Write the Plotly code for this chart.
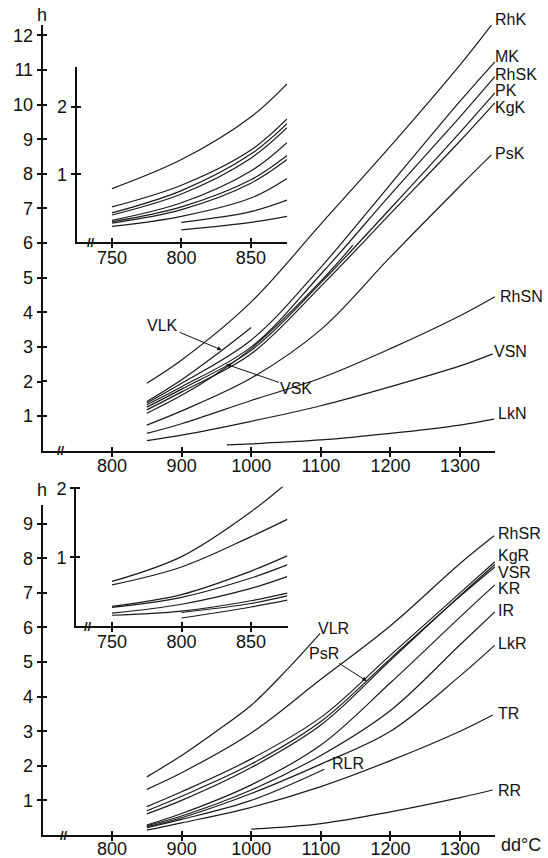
import plotly.graph_objects as go

# ---------------- data ----------------
# Upper chart, main panel
TOP_NAMES = ["RhK", "MK", "RhSK", "PK", "KgK", "VLK", "VSK", "PsK", "RhSN", "VSN", "LkN"]
TOP_DD = [
    [850, 900, 1000, 1100, 1200, 1300, 1345],
    [850, 900, 1000, 1100, 1200, 1300, 1350],
    [850, 900, 1000, 1100, 1200, 1300, 1350],
    [850, 900, 1000, 1100, 1200, 1300, 1350],
    [850, 900, 1000, 1100, 1200, 1300, 1350],
    [850, 900, 950, 1000],
    [850, 900, 950, 1000, 1100, 1146],
    [850, 900, 1000, 1100, 1200, 1300, 1345],
    [850, 900, 1000, 1100, 1200, 1300, 1350],
    [850, 900, 1000, 1100, 1200, 1300, 1347],
    [965, 1000, 1100, 1200, 1300, 1349],
]
TOP_H = [
    [1.95, 2.62, 4.3, 6.55, 8.8, 11.15, 12.3],
    [1.38, 1.95, 3.2, 5.3, 7.7, 10.1, 11.24],
    [1.33, 1.85, 3.0, 5.1, 7.4, 9.65, 10.81],
    [1.26, 1.78, 2.9, 4.85, 7.0, 9.2, 10.34],
    [1.18, 1.7, 2.8, 4.75, 6.85, 8.95, 10.05],
    [1.42, 2.05, 2.78, 3.56],
    [1.08, 1.6, 2.22, 2.95, 4.9, 5.94],
    [0.74, 1.15, 2.1, 3.5, 5.6, 7.65, 8.55],
    [0.50, 0.78, 1.45, 2.1, 2.95, 3.9, 4.45],
    [0.29, 0.45, 0.85, 1.3, 1.85, 2.45, 2.8],
    [0.17, 0.2, 0.31, 0.5, 0.74, 0.91],
]
# Upper chart, inset (750-875 dd)
TOP_IN_DD = [
    [750, 800, 850, 876], [750, 800, 850, 876], [750, 800, 850, 876],
    [750, 800, 850, 876], [750, 800, 850, 876], [750, 800, 850, 876],
    [750, 800, 850, 876], [750, 800, 850, 876],
    [800, 850, 876], [800, 850, 876],
]
TOP_IN_H = [
    [0.79, 1.22, 1.85, 2.34],
    [0.52, 0.84, 1.36, 1.82],
    [0.43, 0.76, 1.30, 1.75],
    [0.40, 0.71, 1.24, 1.69],
    [0.32, 0.58, 1.05, 1.47],
    [0.30, 0.52, 0.92, 1.28],
    [0.28, 0.48, 0.87, 1.22],
    [0.23, 0.38, 0.65, 0.94],
    [0.29, 0.45, 0.62],
    [0.18, 0.29, 0.38],
]
# Upper chart end labels: (name, dd, h)
TOP_LABELS = [("RhK", 1347, 12.45), ("MK", 1347, 11.40), ("RhSK", 1347, 10.86),
              ("PK", 1347, 10.42), ("KgK", 1347, 9.93), ("PsK", 1347, 8.6),
              ("RhSN", 1354, 4.45), ("VSN", 1346, 2.86), ("LkN", 1352, 1.08)]
TOP_POINTERS = [("VLK", 957.6, 2.91, 872.5, 3.63), ("VSK", 963.8, 2.5, 1065, 1.80)]

# Lower chart, main panel
BOT_NAMES = ["VLR", "RhSR", "KgR", "VSR", "PsR", "KR", "IR", "LkR", "RLR", "TR", "RR"]
BOT_DD = [
    [850, 900, 950, 1000, 1050, 1099],
    [850, 900, 1000, 1100, 1200, 1300, 1349],
    [850, 900, 1000, 1100, 1200, 1300, 1350],
    [850, 900, 1000, 1100, 1200, 1300, 1350],
    [850, 900, 1000, 1100, 1200, 1300, 1350],
    [850, 900, 1000, 1100, 1200, 1300, 1350],
    [850, 900, 1000, 1100, 1200, 1300, 1350],
    [850, 900, 1000, 1100, 1200, 1300, 1350],
    [850, 900, 1000, 1105],
    [850, 900, 1000, 1100, 1200, 1300, 1347],
    [1000, 1100, 1200, 1300, 1347],
]
BOT_H = [
    [1.68, 2.3, 3.0, 3.75, 4.75, 5.83],
    [1.32, 1.8, 2.95, 4.5, 6.05, 7.85, 8.65],
    [0.82, 1.25, 2.2, 3.4, 5.2, 7.0, 7.9],
    [0.70, 1.12, 2.05, 3.28, 5.1, 6.9, 7.75],
    [0.61, 1.0, 1.95, 3.18, 5.05, 6.92, 7.82],
    [0.29, 0.62, 1.45, 2.6, 4.4, 6.3, 7.23],
    [0.27, 0.55, 1.3, 2.3, 3.6, 5.5, 6.45],
    [0.24, 0.5, 1.2, 2.05, 3.0, 4.6, 5.49],
    [0.21, 0.45, 1.0, 1.9],
    [0.14, 0.35, 0.8, 1.4, 2.15, 3.0, 3.47],
    [0.17, 0.33, 0.67, 1.08, 1.30],
]
BOT_IN_DD = [
    [750, 800, 850, 876], [750, 800, 850, 876], [750, 800, 850, 876],
    [750, 800, 850, 876], [750, 800, 850, 876], [750, 800, 850, 876],
    [800, 850, 876], [800, 850, 876],
]
BOT_IN_H = [
    [0.65, 1.01, 1.66, 2.08],
    [0.60, 0.86, 1.30, 1.55],
    [0.29, 0.46, 0.80, 1.02],
    [0.275, 0.42, 0.70, 0.89],
    [0.19, 0.32, 0.55, 0.72],
    [0.16, 0.22, 0.37, 0.48],
    [0.20, 0.33, 0.44],
    [0.12, 0.28, 0.38],
]
BOT_LABELS = [("RhSR", 1352, 8.72), ("KgR", 1352, 8.09), ("VSR", 1352, 7.58),
              ("KR", 1352, 7.13), ("IR", 1352, 6.5), ("LkR", 1352, 5.54),
              ("TR", 1352, 3.52), ("RR", 1352, 1.30),
              ("VLR", 1093, 5.97), ("RLR", 1113, 2.07)]
BOT_POINTERS = [("PsR", 1166, 4.45, 1104, 5.25)]

MAIN_XTICKS = [800, 900, 1000, 1100, 1200, 1300]
TOP_YTICKS = list(range(1, 13))
BOT_YTICKS = list(range(1, 10))
INSET_XTICKS = [750, 800, 850]
INSET_YTICKS = [1, 2]

# ---------------- figure ----------------
W, H = 548, 858
FONT = "Liberation Sans, Arial, Helvetica, sans-serif"
LINE = dict(color="#1a1a1a", width=1.2, shape="spline", smoothing=1.0)

fig = go.Figure()


def add_lines(dds, hs, xa, ya):
    for d, h in zip(dds, hs):
        fig.add_trace(go.Scatter(x=d, y=h, mode="lines", line=LINE,
                                 xaxis=xa, yaxis=ya, showlegend=False,
                                 hoverinfo="skip"))


add_lines(TOP_DD, TOP_H, "x", "y")
add_lines(TOP_IN_DD, TOP_IN_H, "x2", "y2")
add_lines(BOT_DD, BOT_H, "x3", "y3")
add_lines(BOT_IN_DD, BOT_IN_H, "x4", "y4")


def axis(domain, rng, ticks, anchor, fs=18, major="outside", standoff=0):
    minor_dir = "inside" if major == "outside" else "outside"
    return dict(
        domain=domain, range=rng, anchor=anchor, automargin=False,
        showline=True, linecolor="#111", linewidth=2,
        showgrid=False, zeroline=False,
        tickmode="array", tickvals=ticks, ticktext=[str(t) for t in ticks],
        ticks=major, ticklen=4, tickwidth=1.5, tickcolor="#111",
        ticklabelstandoff=standoff,
        minor=dict(tickmode="array", tickvals=[t + 1e-3 for t in ticks],
                   ticks=minor_dir, ticklen=4, tickwidth=1.5, tickcolor="#111",
                   showgrid=False),
        tickfont=dict(family=FONT, size=fs, color="#111"),
        fixedrange=True,
    )


def px_x(p):
    return p / W


def px_y(p):
    return 1 - p / H


main_xdom = [px_x(42.7), px_x(495.2)]
main_xrng = [700.4, 1350.5]
top_ydom = [px_y(450.7), px_y(25.1)]
top_yrng = [0, 12.3]
bot_ydom = [px_y(835), px_y(505)]
bot_yrng = [0, 9.54]


def to_paper(v, rng, dom):
    # position of a data value in paper fraction along the same linear axis
    return dom[0] + (v - rng[0]) / (rng[1] - rng[0]) * (dom[1] - dom[0])


fig.update_layout(
    width=W, height=H,
    margin=dict(l=0, r=0, t=0, b=0, autoexpand=False),
    paper_bgcolor="white", plot_bgcolor="rgba(0,0,0,0)",
    xaxis=axis(main_xdom, main_xrng, MAIN_XTICKS, "y", major="inside", standoff=-2),
    yaxis=axis(top_ydom, top_yrng, TOP_YTICKS, "x"),
    xaxis2=axis([px_x(76.7), px_x(287)], [724.6, 876], INSET_XTICKS, "y2", major="inside", standoff=-2),
    yaxis2=axis([px_y(242), px_y(66.7)], [0, 2.593], INSET_YTICKS, "x2"),
    xaxis3=axis(main_xdom, main_xrng, MAIN_XTICKS, "y3", major="inside", standoff=-4),
    yaxis3=axis(bot_ydom, bot_yrng, BOT_YTICKS, "x3"),
    xaxis4=axis([px_x(76), px_x(288)], [724.1, 876.6], INSET_XTICKS, "y4", major="inside", standoff=-2),
    yaxis4=axis([px_y(626.3), px_y(486.7)], [0, 2.023], INSET_YTICKS, "x4"),
)

ann = []
LBL = dict(family=FONT, size=16, color="#111")
for name, d, h in TOP_LABELS:
    ann.append(dict(x=to_paper(d, main_xrng, main_xdom), y=to_paper(h, top_yrng, top_ydom),
                    xref="paper", yref="paper", text=name, showarrow=False,
                    xanchor="left", yanchor="middle", font=LBL))
for name, d, h in BOT_LABELS:
    ann.append(dict(x=to_paper(d, main_xrng, main_xdom), y=to_paper(h, bot_yrng, bot_ydom),
                    xref="paper", yref="paper", text=name, showarrow=False,
                    xanchor="left", yanchor="middle", font=LBL))
for name, d, h, ad, ah in TOP_POINTERS:
    ann.append(dict(x=d, y=h, xref="x", yref="y", ax=ad, ay=ah, axref="x", ayref="y",
                    text=name, showarrow=True, arrowhead=2, arrowsize=0.9,
                    arrowwidth=1, arrowcolor="#111", font=LBL))
for name, d, h, ad, ah in BOT_POINTERS:
    ann.append(dict(x=d, y=h, xref="x3", yref="y3", ax=ad, ay=ah, axref="x3", ayref="y3",
                    text=name, showarrow=True, arrowhead=2, arrowsize=0.9,
                    arrowwidth=1, arrowcolor="#111", font=LBL))

# axis titles
TITLE = dict(family=FONT, size=18, color="#111")
ann.append(dict(x=px_x(42), y=px_y(15), xref="paper", yref="paper", text="h",
                showarrow=False, xanchor="center", yanchor="middle", font=TITLE))
ann.append(dict(x=px_x(42), y=px_y(490), xref="paper", yref="paper", text="h",
                showarrow=False, xanchor="center", yanchor="middle", font=TITLE))
ann.append(dict(x=px_x(499), y=px_y(845), xref="paper", yref="paper", text="dd°C",
                showarrow=False, xanchor="left", yanchor="middle", font=TITLE))

# axis break marks
BRK = dict(family=FONT, size=13, color="#111")
for xr, yr, d in [("x", "y", 727), ("x2", "y2", 735), ("x3", "y3", 731), ("x4", "y4", 733)]:
    ann.append(dict(x=d, y=0, xref=xr, yref=yr, text="<b>//</b>", showarrow=False,
                    xanchor="center", yanchor="middle", font=BRK))

fig.update_layout(annotations=ann)
fig.write_html("out.html", config={"displayModeBar": False},
               post_script="document.body.style.margin='0';document.body.style.overflow='hidden';")
